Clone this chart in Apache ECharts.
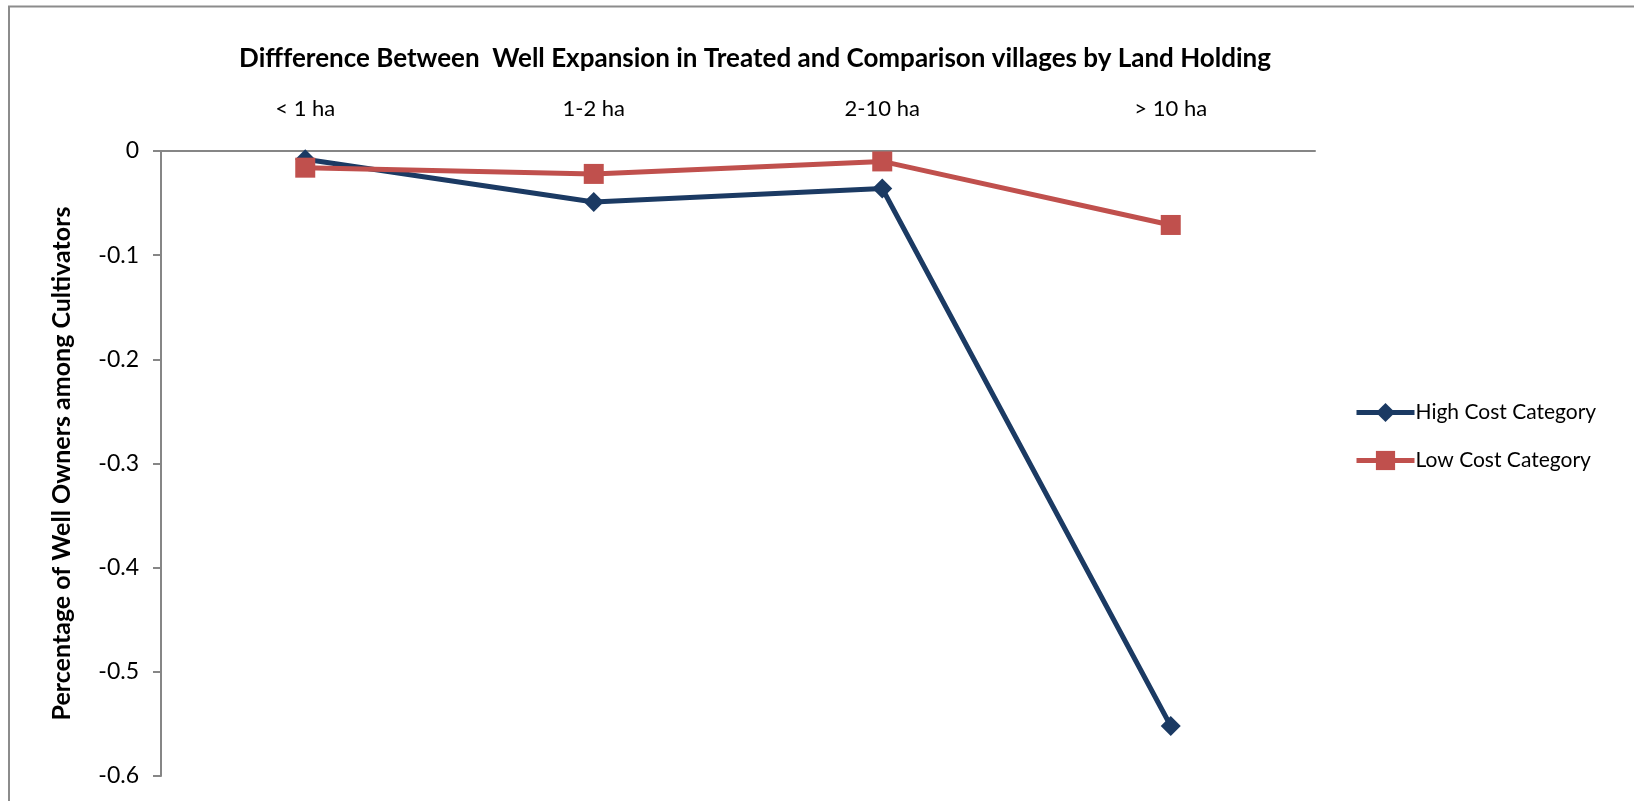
<!DOCTYPE html>
<html>
<head>
<meta charset="utf-8">
<script src="https://cdn.jsdelivr.net/npm/echarts@6/dist/echarts.min.js"></script>
<style>
html,body{margin:0;padding:0;background:#fff;}
#chart{width:1634px;height:801px;}
</style>
</head>
<body>
<div id="chart"></div>
<script>
const categories = ['< 1 ha', '1-2 ha', '2-10 ha', '> 10 ha'];
const highCost = [-0.008, -0.049, -0.036, -0.552];
const lowCost = [-0.016, -0.022, -0.010, -0.071];
const seriesNames = ['High Cost Category', 'Low Cost Category'];
const titleText = 'Diffference Between  Well Expansion in Treated and Comparison villages by Land Holding';
const yAxisName = 'Percentage of Well Owners among Cultivators';

const FONT = 'Lato';
const chart = echarts.init(document.getElementById('chart'), null, {renderer: 'canvas'});
chart.setOption({
  animation: false,
  backgroundColor: '#ffffff',
  textStyle: {fontFamily: FONT},
  title: {
    text: titleText,
    left: 755, top: 46, textAlign: 'center', padding: 0,
    textStyle: {fontFamily: FONT, fontWeight: 'bold', fontSize: 26, color: '#000'}
  },
  graphic: [{
    type: 'rect', silent: true, z: -1,
    shape: {x: 9, y: 6.5, width: 2000, height: 2000},
    style: {fill: 'none', stroke: '#8c8c8c', lineWidth: 2}
  }],
  legend: {
    orient: 'vertical',
    left: 1354, top: 402, padding: 0,
    itemWidth: 58, itemHeight: 24, itemGap: 27,
    lineStyle: {width: 5},
    textStyle: {fontFamily: FONT, fontSize: 21, color: '#000', padding: [0,0,0,-4]},
    data: seriesNames
  },
  grid: {left: 161, top: 151, right: 319, bottom: 25, containLabel: false},
  xAxis: {
    type: 'category',
    position: 'top',
    data: categories,
    boundaryGap: true,
    axisLine: {lineStyle: {color: '#868686', width: 2}},
    axisTick: {inside: true, length: 7, lineStyle: {color: '#868686', width: 2}},
    axisLabel: {fontFamily: FONT, fontSize: 22, color: '#000', margin: 31},
    splitLine: {show: false}
  },
  yAxis: {
    type: 'value',
    min: -0.6, max: 0, interval: 0.1,
    name: yAxisName,
    nameLocation: 'middle',
    nameGap: 87,
    nameTextStyle: {fontFamily: FONT, fontWeight: 'bold', fontSize: 25, color: '#000'},
    axisLine: {show: true, lineStyle: {color: '#868686', width: 2}},
    axisTick: {show: true, length: 8, lineStyle: {color: '#868686', width: 2}},
    axisLabel: {fontFamily: FONT, fontSize: 23, color: '#000', margin: 22,
      formatter: v => (Math.abs(v) < 1e-9 ? '0' : (Math.round(v * 10) / 10).toString())},
    splitLine: {show: false}
  },
  series: [
    {
      name: seriesNames[0], type: 'line', data: highCost,
      symbol: 'diamond', symbolSize: 20,
      lineStyle: {color: '#1b3a63', width: 5},
      itemStyle: {color: '#1b3a63'},
      z: 2
    },
    {
      name: seriesNames[1], type: 'line', data: lowCost,
      symbol: 'rect', symbolSize: 20,
      lineStyle: {color: '#c0504d', width: 5},
      itemStyle: {color: '#c0504d'},
      z: 3
    }
  ]
});
</script>
</body>
</html>
